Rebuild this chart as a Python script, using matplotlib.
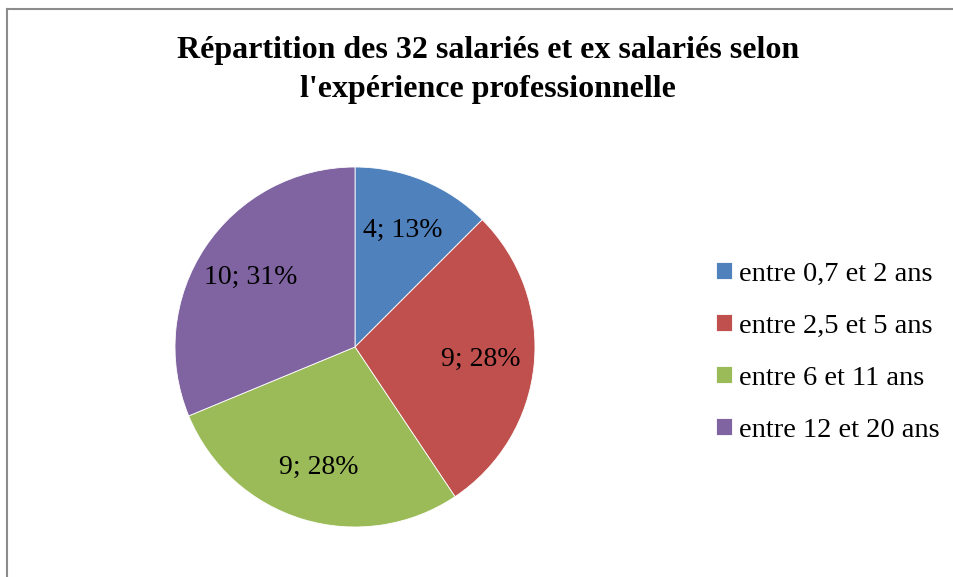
import math
import matplotlib
matplotlib.use("Agg")
import matplotlib.pyplot as plt
from matplotlib.lines import Line2D

# Data
categories = ["entre 0,7 et 2 ans", "entre 2,5 et 5 ans", "entre 6 et 11 ans", "entre 12 et 20 ans"]
counts = [4, 9, 9, 10]
colors = ["#4f81bd", "#c0504d", "#9bbb59", "#8064a2"]
title = "Répartition des 32 salariés et ex salariés selon\nl'expérience professionnelle"

W, H = 954, 577
fig = plt.figure(figsize=(W / 100, H / 100), dpi=100)
fig.patch.set_facecolor("white")

# Frame (gray border, top and left visible)
fig.add_artist(Line2D([7 / W, 7 / W], [0, 1 - 9 / H], color="#8c8c8c", lw=1.5, transform=fig.transFigure))
fig.add_artist(Line2D([7 / W, 1], [1 - 9 / H, 1 - 9 / H], color="#8c8c8c", lw=1.5, transform=fig.transFigure))

fig.text(488 / W, 1 - 70 / H, title, ha="center", va="center", fontsize=23,
         fontweight="bold", family="Liberation Serif", linespacing=1.45)

# Pie axes: center (355, 347), radius 180 px
cx, cy, r = 355, 347, 180
ax = fig.add_axes([(cx - r) / W, 1 - (cy + r) / H, 2 * r / W, 2 * r / H])
total = sum(counts)

def fmt(pct):
    n = int(round(pct * total / 100))
    return f"{n}; {math.floor(pct + 0.5)}%"

wedges, texts, autotexts = ax.pie(counts, colors=colors, startangle=90, counterclock=False,
                                  autopct=fmt, pctdistance=0.70, radius=1,
                                  wedgeprops=dict(linewidth=0.6, edgecolor="white"),
                                  textprops=dict(fontsize=20, family="Liberation Serif", color="black"))
ax.set_xlim(-1, 1)
ax.set_ylim(-1, 1)
ax.set_aspect("equal")
ax.axis("off")

leg = fig.legend(wedges, categories, loc="center left", bbox_to_anchor=(716 / W, 1 - 352 / H),
                 frameon=False, prop=dict(family="Liberation Serif", size=20.5),
                 borderaxespad=0, borderpad=0,
                 handlelength=0.55, handleheight=0.55, handletextpad=0.25, labelspacing=0.95)

fig.savefig("out.png", dpi=100)
